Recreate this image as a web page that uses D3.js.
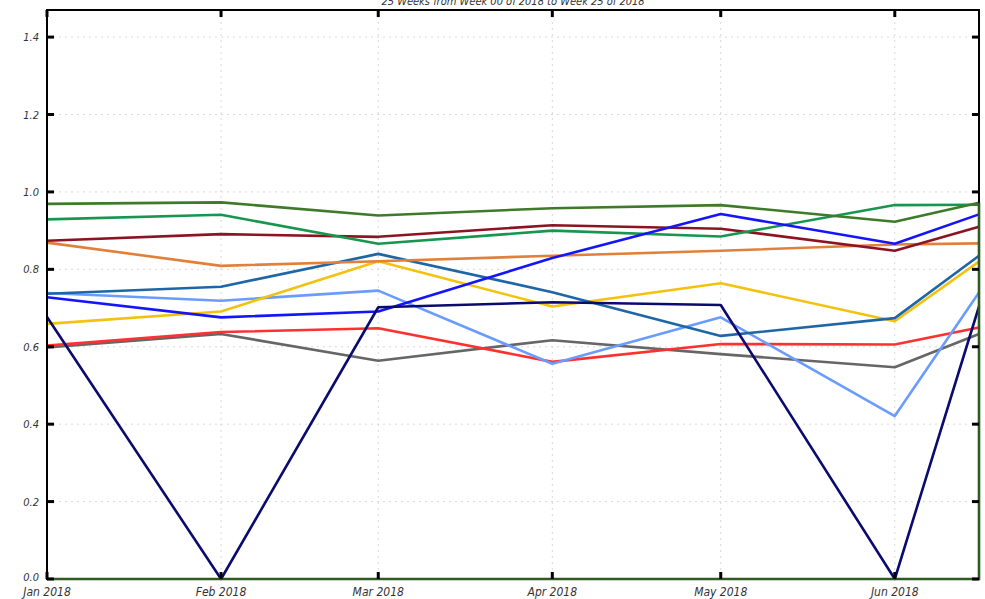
<!DOCTYPE html>
<html>
<head>
<meta charset="utf-8">
<script src="https://cdn.jsdelivr.net/npm/d3@7"></script>
<style>
  html, body { margin: 0; padding: 0; background: #fff; }
  svg text { font-family: "Liberation Sans Narrow", "DejaVu Sans Condensed", "Liberation Sans", sans-serif; font-style: italic; }
</style>
</head>
<body>
<svg id="chart" width="985" height="599"></svg>
<script>
const title = "25 Weeks from Week 00 of 2018 to Week 25 of 2018";
const dates = ["2018-01-01", "2018-02-01", "2018-03-01", "2018-04-01", "2018-05-01", "2018-06-01", "2018-06-16"];
const xTicks = ["2018-01-01", "2018-02-01", "2018-03-01", "2018-04-01", "2018-05-01", "2018-06-01"];
const yTicks = [0.0, 0.2, 0.4, 0.6, 0.8, 1.0, 1.2, 1.4];

const olive     = [0.969, 0.973, 0.939, 0.958, 0.966, 0.923, 0.972];
const green     = [0.929, 0.941, 0.866, 0.900, 0.885, 0.966, 0.967];
const darkRed   = [0.874, 0.891, 0.884, 0.914, 0.905, 0.848, 0.910];
const orange    = [0.869, 0.809, 0.821, 0.835, 0.848, 0.864, 0.867];
const blue      = [0.728, 0.676, 0.691, 0.829, 0.943, 0.866, 0.942];
const steelBlue = [0.737, 0.755, 0.840, 0.741, 0.628, 0.674, 0.835];
const lightBlue = [0.739, 0.719, 0.745, 0.556, 0.676, 0.421, 0.740];
const yellow    = [0.659, 0.691, 0.821, 0.704, 0.764, 0.666, 0.820];
const red       = [0.603, 0.638, 0.648, 0.561, 0.607, 0.606, 0.650];
const gray      = [0.598, 0.633, 0.564, 0.617, 0.581, 0.547, 0.633];
const navy      = [0.677, 0.0, 0.702, 0.715, 0.708, 0.0, 0.704];
// dark green baseline series (flat zero, closing at the last date)
const baseDates  = ["2018-01-01", "2018-06-16", "2018-06-16"];
const baseValues = [0.0, 0.0, 0.972];

const series = [
  {values: gray,      color: "#666666"},
  {values: red,       color: "#ff3030"},
  {values: lightBlue, color: "#6a9cff"},
  {values: yellow,    color: "#f2c20f"},
  {values: steelBlue, color: "#1f66a6"},
  {values: orange,    color: "#e2803a"},
  {values: darkRed,   color: "#8c1422"},
  {values: green,     color: "#17964f"},
  {values: blue,      color: "#1414ff"},
  {values: olive,     color: "#3f7a2a"},
  {values: navy,      color: "#0b0b6f"}
];

const parse = d3.timeParse("%Y-%m-%d");
const svg = d3.select("#chart");
const m = {left: 47, right: 979, top: 10, bottom: 579};

const x = d3.scaleTime().domain([parse(dates[0]), parse(dates[dates.length - 1])]).range([m.left, m.right]);
const y = d3.scaleLinear().domain([0, 1.47]).range([m.bottom, m.top]);

// grid
const grid = svg.append("g");
grid.selectAll(".gx").data(xTicks.slice(1)).enter().append("line")
  .attr("x1", d => x(parse(d))).attr("x2", d => x(parse(d)))
  .attr("y1", m.top).attr("y2", m.bottom)
  .attr("stroke", "#d8d8d8").attr("stroke-width", 1).attr("stroke-dasharray", "2,4");
grid.selectAll(".gy").data(yTicks.slice(1)).enter().append("line")
  .attr("y1", d => y(d)).attr("y2", d => y(d))
  .attr("x1", m.left).attr("x2", m.right)
  .attr("stroke", "#d8d8d8").attr("stroke-width", 1).attr("stroke-dasharray", "2,4");

// title
svg.append("text").attr("x", 513).attr("y", 5).attr("text-anchor", "middle")
  .attr("font-size", 11).attr("fill", "#333").text(title);

// lines
const line = d3.line().x(d => x(d[0])).y(d => y(d[1]));
const linesG = svg.append("g").attr("fill", "none").attr("stroke-width", 2.6).attr("stroke-linejoin", "round");
series.forEach(s => {
  linesG.append("path")
    .datum(dates.map((d, i) => [parse(d), s.values[i]]))
    .attr("d", line).attr("stroke", s.color);
});

// frame
svg.append("rect").attr("x", m.left).attr("y", m.top)
  .attr("width", m.right - m.left).attr("height", m.bottom - m.top)
  .attr("fill", "none").attr("stroke", "#000").attr("stroke-width", 2);

// baseline series on top of frame
svg.append("path")
  .datum(baseDates.map((d, i) => [parse(d), baseValues[i]]))
  .attr("d", line).attr("fill", "none").attr("stroke", "#2f5a22").attr("stroke-width", 2.6);

// axes with inward ticks
const axG = svg.append("g");
const tickLen = 7;
axG.selectAll(".tl").data(yTicks).enter().append("line")
  .attr("x1", m.left).attr("x2", m.left + tickLen)
  .attr("y1", d => y(d)).attr("y2", d => y(d))
  .attr("stroke", "#000").attr("stroke-width", 3);
axG.selectAll(".tr").data(yTicks).enter().append("line")
  .attr("x1", m.right).attr("x2", m.right - tickLen)
  .attr("y1", d => y(d)).attr("y2", d => y(d))
  .attr("stroke", "#000").attr("stroke-width", 3);
axG.selectAll(".tb").data(xTicks).enter().append("line")
  .attr("x1", d => x(parse(d))).attr("x2", d => x(parse(d)))
  .attr("y1", m.bottom).attr("y2", m.bottom - tickLen)
  .attr("stroke", "#000").attr("stroke-width", 3);
axG.selectAll(".tt").data(xTicks).enter().append("line")
  .attr("x1", d => x(parse(d))).attr("x2", d => x(parse(d)))
  .attr("y1", m.top).attr("y2", m.top + tickLen)
  .attr("stroke", "#000").attr("stroke-width", 3);

// labels
const fmtY = d3.format(".1f");
axG.selectAll(".ly").data(yTicks).enter().append("text")
  .attr("x", 39).attr("y", d => y(d) + (d === 0 ? 2 : 4))
  .attr("text-anchor", "end").attr("font-size", 11).attr("fill", "#333")
  .text(d => fmtY(d));
const fmtX = d3.timeFormat("%b %Y");
axG.selectAll(".lx").data(xTicks).enter().append("text")
  .attr("x", d => x(parse(d))).attr("y", 596)
  .attr("text-anchor", "middle").attr("font-size", 12).attr("fill", "#333")
  .text(d => fmtX(parse(d)));
</script>
</body>
</html>
